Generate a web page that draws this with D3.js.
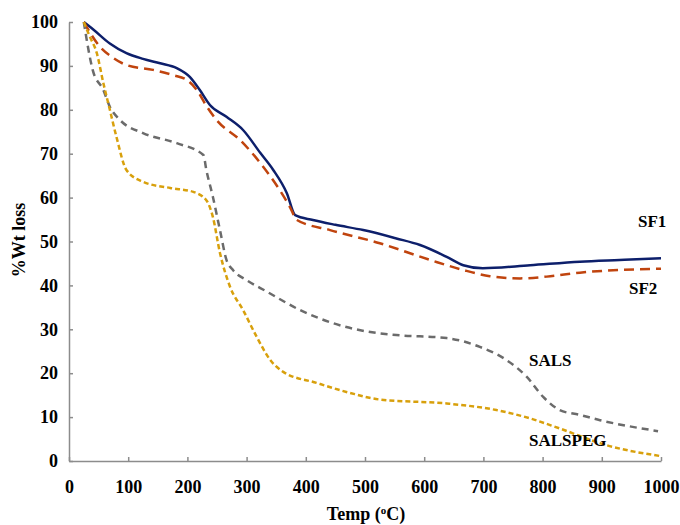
<!DOCTYPE html>
<html><head><meta charset="utf-8">
<script src="https://cdn.jsdelivr.net/npm/d3@7"></script>
<style>body{margin:0;background:#fff;} text{font-family:"Liberation Serif","Times New Roman",serif;font-weight:bold;}</style>
</head><body>
<svg id="c" width="680" height="525"></svg>
<script>
const xTicks = [0,100,200,300,400,500,600,700,800,900,1000];
const yTicks = [0,10,20,30,40,50,60,70,80,90,100];
const sf1 = [[25,100],[41,98.3],[69,95.1],[97,92.9],[125,91.6],[154,90.6],[182,89.5],[204,87.5],[221,84.5],[238,81.1],[266,78.4],[294,75.4],[323,70.2],[345,66.3],[368,61],[382,56],[412,54.9],[450,53.8],[497,52.6],[553,50.7],[593,49.2],[638,46.5],[666,44.6],[699,43.9],[779,44.6],[863,45.4],[930,45.8],[1000,46.2]];
const sf2 = [[25,100],[52,94.4],[75,91.8],[97,90.2],[142,89.1],[176,87.9],[199,86.8],[216,84.5],[233,80.7],[249,77.7],[289,73.1],[323,67.9],[373,57.9],[385,54.9],[441,52.6],[525,49.6],[610,45.8],[666,43.5],[711,42.1],[762,41.6],[807,42.0],[863,42.9],[1000,43.8]];
const sals = [[25,100],[40,89.1],[58,84.5],[69,80.7],[86,77.7],[125,74.7],[182,72.4],[227,69.7],[232,66.3],[243,60.2],[255,52.6],[266,45.8],[277,43.5],[300,41.2],[334,38.6],[390,34.4],[446,31.4],[503,29.5],[553,28.7],[638,28.0],[694,26.0],[739,23.0],[773,19.2],[801,14.6],[829,11.6],[863,10.5],[897,9.3],[995,6.8]];
const salspeg = [[25,100],[35,96.7],[47,92.9],[58,86.1],[69,80],[80,73.9],[97,66.3],[125,63.6],[171,62.2],[210,61.3],[232,59.4],[243,55.6],[255,47.4],[272,39.7],[294,34.4],[317,28.3],[340,23],[362,20.3],[418,17.8],[475,15.5],[525,14.0],[638,13.1],[722,11.6],[779,9.7],[829,7.4],[908,3.6],[1000,1.1]];
const seriesNames = ["SF1","SF2","SALS","SALSPEG"];

const svg = d3.select("#c");
const x = d3.scaleLinear().domain([0,1000]).range([69,661]);
const y = d3.scaleLinear().domain([0,100]).range([461,22]);

// axes
const xa = svg.append("g").attr("transform","translate(0,461)")
  .call(d3.axisBottom(x).tickValues(xTicks).tickFormat(d3.format("d")).tickSizeInner(-4).tickSizeOuter(0).tickPadding(19));
const ya = svg.append("g").attr("transform","translate(69,0)")
  .call(d3.axisLeft(y).tickValues(yTicks).tickFormat(d3.format("d")).tickSizeInner(-4).tickSizeOuter(0).tickPadding(11));
[xa,ya].forEach(a=>{
  a.attr("font-size",null).attr("font-family",null);
  a.selectAll("path,line").attr("stroke","#8c8c8c").attr("stroke-width",1.5);
  a.selectAll("text").attr("fill","#000").style("font-size","18px").style("font-family","'Liberation Serif',serif").style("font-weight","bold");
});

const line = d3.line().x(d=>x(d[0])).y(d=>y(d[1])).curve(d3.curveMonotoneX);
const styles = [
  {d:sf1, c:"#0d1f6b", dash:null},
  {d:sf2, c:"#c0440e", dash:"10,6"},
  {d:sals, c:"#6b6b6b", dash:"7,5"},
  {d:salspeg, c:"#d8a00c", dash:"5,3"}
];
styles.forEach(s=>{
  svg.append("path").datum(s.d).attr("d",line).attr("fill","none")
    .attr("stroke",s.c).attr("stroke-width",2.5)
    .attr("stroke-dasharray",s.dash);
});

// series labels
const lab = [[seriesNames[0],638,227],[seriesNames[1],629,294],[seriesNames[2],529,366],[seriesNames[3],529,446]];
lab.forEach(l=>svg.append("text").attr("x",l[1]).attr("y",l[2]).style("font-size","17px").text(l[0]));

// axis titles
svg.append("text").attr("transform","translate(25,240) rotate(-90)").attr("text-anchor","middle")
  .style("font-size","18px").text("%Wt  loss");
const t = svg.append("text").attr("x",366).attr("y",520).attr("text-anchor","middle").style("font-size","18px");
t.append("tspan").text("Temp (");
t.append("tspan").attr("dy",-6).style("font-size","11px").text("o");
t.append("tspan").attr("dy",6).text("C)");
</script>
</body></html>
